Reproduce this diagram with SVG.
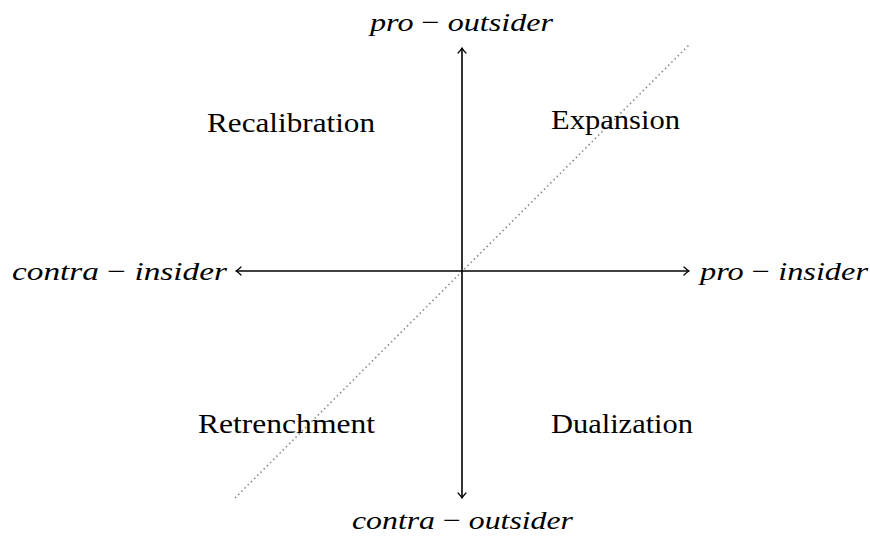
<svg xmlns="http://www.w3.org/2000/svg" width="870" height="536" viewBox="0 0 870 536">
<style>
.lbl{font-family:"Liberation Serif","DejaVu Serif",serif;font-size:27px;fill:#000}
.ax{font-family:"Liberation Serif","DejaVu Serif",serif;font-size:26px;font-style:italic;fill:#000}
.m{font-style:normal}
.axis{stroke:#000;stroke-width:1.6;fill:none}
</style>
<defs>
<marker id="arr" viewBox="-6 -5 8 10" refX="0" refY="0" markerWidth="8" markerHeight="10" markerUnits="userSpaceOnUse" orient="auto">
<path d="M-5,-4 Q-2,-1 0,0 Q-2,1 -5,4" fill="none" stroke="#000" stroke-width="1.2" stroke-linecap="round"/>
</marker>
</defs>
<g id="connectors">
<line x1="235" y1="498" x2="690" y2="44" stroke="#888" stroke-width="1.6" stroke-dasharray="1.5 3"/>
<line class="axis" x1="462" y1="271" x2="462" y2="48" marker-end="url(#arr)"/>
<line class="axis" x1="462" y1="271" x2="462" y2="498" marker-end="url(#arr)"/>
<line class="axis" x1="462" y1="271" x2="689" y2="271" marker-end="url(#arr)"/>
<line class="axis" x1="462" y1="271" x2="236" y2="271" marker-end="url(#arr)"/>
</g>
<g id="pro-outsider"><text class="ax" x="370" y="31" textLength="183" lengthAdjust="spacingAndGlyphs">pro <tspan class="m">−</tspan> outsider</text></g>
<g id="contra-outsider"><text class="ax" x="352" y="529" textLength="221" lengthAdjust="spacingAndGlyphs">contra <tspan class="m">−</tspan> outsider</text></g>
<g id="contra-insider"><text class="ax" x="12" y="280" textLength="215" lengthAdjust="spacingAndGlyphs">contra <tspan class="m">−</tspan> insider</text></g>
<g id="pro-insider"><text class="ax" x="700" y="280" textLength="168" lengthAdjust="spacingAndGlyphs">pro <tspan class="m">−</tspan> insider</text></g>
<g id="recalibration"><text class="lbl" x="207" y="132" textLength="168" lengthAdjust="spacingAndGlyphs">Recalibration</text></g>
<g id="expansion"><text class="lbl" x="551" y="129" textLength="129" lengthAdjust="spacingAndGlyphs">Expansion</text></g>
<g id="retrenchment"><text class="lbl" x="198" y="433" textLength="177" lengthAdjust="spacingAndGlyphs">Retrenchment</text></g>
<g id="dualization"><text class="lbl" x="551" y="433" textLength="142" lengthAdjust="spacingAndGlyphs">Dualization</text></g>
</svg>
